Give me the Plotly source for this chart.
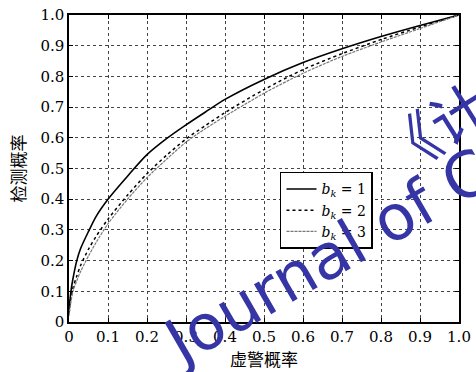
import plotly.graph_objects as go

x_vals = [0, 0.005, 0.01, 0.02, 0.03, 0.05, 0.07, 0.1, 0.15, 0.2, 0.25, 0.3, 0.35, 0.4, 0.5, 0.6, 0.7, 0.8, 0.9, 1.0]
bk1 = [0.04, 0.10, 0.14, 0.20, 0.24, 0.295, 0.345, 0.40, 0.475, 0.545, 0.597, 0.642, 0.684, 0.725, 0.79, 0.845, 0.89, 0.93, 0.966, 1.0]
bk2 = [0.03, 0.08, 0.11, 0.15, 0.185, 0.237, 0.28, 0.335, 0.413, 0.483, 0.543, 0.596, 0.64, 0.682, 0.757, 0.822, 0.874, 0.92, 0.961, 1.0]
bk3 = [0.02, 0.065, 0.10, 0.135, 0.165, 0.215, 0.26, 0.32, 0.40, 0.47, 0.53, 0.586, 0.63, 0.67, 0.745, 0.81, 0.865, 0.912, 0.956, 1.0]

tick_vals = [0, 0.1, 0.2, 0.3, 0.4, 0.5, 0.6, 0.7, 0.8, 0.9, 1.0]
tick_text = ["0", "0.1", "0.2", "0.3", "0.4", "0.5", "0.6", "0.7", "0.8", "0.9", "1.0"]

series_names = ["<i>b</i><sub><i>k</i></sub> = 1", "<i>b</i><sub><i>k</i></sub> = 2", "<i>b</i><sub><i>k</i></sub> = 3"]
x_title = "虚警概率"
y_title = "检测概率"
watermark_en = "Journal of Computers"
watermark_cn = "《计算机学报》"

fig = go.Figure()
fig.add_trace(go.Scatter(x=x_vals, y=bk1, mode="lines", name=series_names[0],
                         line=dict(color="black", width=1.6, shape="spline", smoothing=0.8)))
fig.add_trace(go.Scatter(x=x_vals, y=bk2, mode="lines", name=series_names[1],
                         line=dict(color="black", width=1.5, dash="dot", shape="spline", smoothing=0.8)))
fig.add_trace(go.Scatter(x=x_vals, y=bk3, mode="lines", name=series_names[2],
                         line=dict(color="#777777", width=1.2, dash="3px,1px", shape="spline", smoothing=0.8)))

serif = "DejaVu Serif"
cjk = "Noto Sans CJK SC"

axis_common = dict(
    range=[0, 1], tickvals=tick_vals, ticktext=tick_text,
    showgrid=True, gridcolor="#444444", gridwidth=1, griddash="dot",
    showline=True, linecolor="black", linewidth=1.5, mirror="ticks",
    ticks="inside", ticklen=4, tickcolor="black",
    zeroline=False, tickfont=dict(family=serif, size=15, color="black"),
    automargin=False,
)

fig.update_layout(
    width=476, height=372, autosize=False,
    margin=dict(l=69, r=17, t=15, b=50, autoexpand=False),
    paper_bgcolor="white", plot_bgcolor="white",
    xaxis=dict(**axis_common, title=dict(text=x_title, font=dict(family=cjk, size=17, color="black"), standoff=2)),
    yaxis=dict(**axis_common, title=dict(text=y_title, font=dict(family=cjk, size=17, color="black"), standoff=10)),
    legend=dict(x=0.541, y=0.489, xanchor="left", yanchor="top",
                bordercolor="black", borderwidth=1.5, bgcolor="white",
                font=dict(family=serif, size=14, color="black"),
                tracegroupgap=0, itemwidth=30),
    showlegend=True,
)

fig.add_annotation(text=watermark_en, xref="paper", yref="paper",
                   x=0.997, y=0.458, xanchor="center", yanchor="middle",
                   showarrow=False, textangle=-30,
                   font=dict(family="DejaVu Sans", size=63, color="#3535a5"))
fig.add_annotation(text=watermark_cn, xref="paper", yref="paper",
                   x=1.249, y=0.886, xanchor="center", yanchor="middle",
                   showarrow=False, textangle=-32,
                   font=dict(family=cjk, size=58, color="#3535a5"))

fig.write_html("out.html", config={"displayModeBar": False},
               post_script="document.body.style.margin='0px';")
